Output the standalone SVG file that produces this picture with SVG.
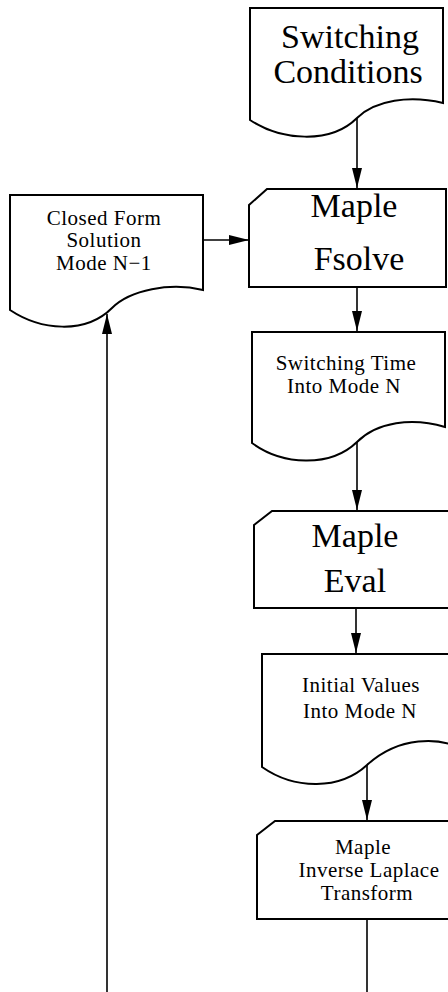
<svg xmlns="http://www.w3.org/2000/svg" width="448" height="992" viewBox="0 0 448 992">
<style>
.shape{fill:#fff;stroke:#000;stroke-width:2;stroke-linejoin:miter}
.edge{fill:none;stroke:#000;stroke-width:1.6}
text{font-family:"Liberation Serif","Times New Roman",serif;fill:#000;text-anchor:middle}
.big{font-size:34px}
.small{font-size:21px;letter-spacing:0.5px}
</style>
<defs>
<marker id="arr" markerWidth="20" markerHeight="10" refX="20" refY="5" orient="auto" markerUnits="userSpaceOnUse">
<path d="M0,0 L20,5 L0,10 Z" fill="#000"/>
</marker>
</defs>
<rect width="448" height="992" fill="#fff"/>
<g id="connectors">
<line class="edge" x1="357" y1="118" x2="357" y2="188" marker-end="url(#arr)"/>
<line class="edge" x1="203" y1="240" x2="249" y2="240" marker-end="url(#arr)"/>
<line class="edge" x1="357" y1="287" x2="357" y2="331" marker-end="url(#arr)"/>
<line class="edge" x1="357" y1="442" x2="357" y2="510" marker-end="url(#arr)"/>
<line class="edge" x1="356" y1="608" x2="356" y2="653" marker-end="url(#arr)"/>
<line class="edge" x1="367" y1="765" x2="367" y2="820" marker-end="url(#arr)"/>
<line class="edge" x1="367" y1="919" x2="367" y2="992"/>
<line class="edge" x1="107" y1="992" x2="107" y2="314" marker-end="url(#arr)"/>
</g>
<g id="switching-conditions">
<path class="shape" d="M250,8 H443 V103 C410,95 375,100 357,118 C330,145 280,140 250,120 Z"/>
<text class="big" x="350" y="48">Switching</text>
<text class="big" x="348" y="83">Conditions</text>
</g>
<g id="closed-form">
<path class="shape" d="M10,195 H203 V290 C170,282 130,290 112,308 C85,335 40,330 10,310 Z"/>
<text class="small" x="104" y="225">Closed Form</text>
<text class="small" x="104" y="247">Solution</text>
<text class="small" x="104" y="270">Mode N−1</text>
</g>
<g id="maple-fsolve">
<path class="shape" d="M249,205 L267,189 H446 V287 H249 Z"/>
<text class="big" x="354" y="217">Maple</text>
<text class="big" x="359" y="270">Fsolve</text>
</g>
<g id="switching-time">
<path class="shape" d="M252,332 H445 V427 C412,417 377,422 357,442 C330,468 282,465 252,443 Z"/>
<text class="small" x="346" y="370">Switching Time</text>
<text class="small" x="344" y="393">Into Mode N</text>
</g>
<g id="maple-eval">
<path class="shape" d="M254,525 L272,511 H460 V608 H254 Z"/>
<text class="big" x="355" y="547">Maple</text>
<text class="big" x="355" y="592">Eval</text>
</g>
<g id="initial-values">
<path class="shape" d="M262,654 H460 V748 C440,738 400,735 367,765 C340,790 295,790 262,767 Z"/>
<text class="small" x="361" y="692">Initial Values</text>
<text class="small" x="360" y="718">Into Mode N</text>
</g>
<g id="inverse-laplace">
<path class="shape" d="M257,835 L275,821 H460 V919 H257 Z"/>
<text class="small" x="363" y="854">Maple</text>
<text class="small" x="369" y="877">Inverse Laplace</text>
<text class="small" x="367" y="900">Transform</text>
</g>
</svg>
